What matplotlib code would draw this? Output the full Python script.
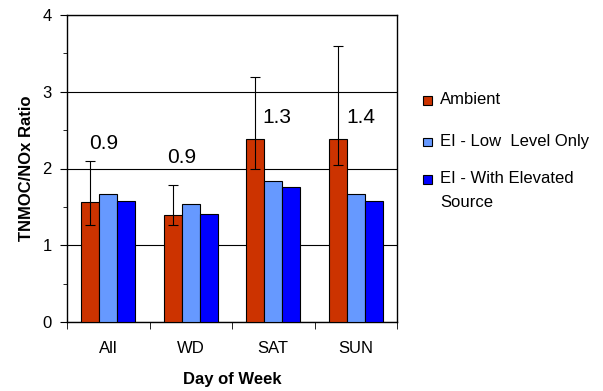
import numpy as np
import matplotlib.pyplot as plt
from matplotlib.patches import Rectangle
from matplotlib.ticker import MultipleLocator

plt.rcParams['font.family'] = ['Liberation Sans', 'DejaVu Sans']

# data
days = ['All', 'WD', 'SAT', 'SUN']
ambient = [1.57, 1.40, 2.38, 2.38]
low_level = [1.67, 1.54, 1.84, 1.67]
elevated = [1.58, 1.41, 1.76, 1.58]
err_low = [1.26, 1.26, 2.00, 2.04]
err_high = [2.10, 1.78, 3.19, 3.60]
ratio_labels = ['0.9', '0.9', '1.3', '1.4']
label_x = [-0.06, -0.11, 0.04, 0.06]
label_y = [2.32, 2.14, 2.66, 2.66]

series_names = ['Ambient', 'EI - Low  Level Only', 'EI - With Elevated\nSource']
colors = ['#CC3300', '#6699FF', '#0000FF']

x = np.arange(len(days))
w = 0.217

W, H = 603, 391
fig = plt.figure(figsize=(W / 100, H / 100), dpi=100)
ax = fig.add_axes([67 / W, 1 - 322 / H, 330 / W, 307 / H])

for k, vals in enumerate([ambient, low_level, elevated]):
    ax.bar(x + (k - 1) * w, vals, w, color=colors[k], edgecolor='black',
           linewidth=0.8, zorder=3)

amb = np.array(ambient)
yerr = [amb - np.array(err_low), np.array(err_high) - amb]
ax.errorbar(x - w, amb, yerr=yerr, fmt='none', ecolor='black', elinewidth=0.8,
            capsize=3.5, capthick=0.8, zorder=4)

for i in range(len(days)):
    ax.text(x[i] + label_x[i], label_y[i], ratio_labels[i], fontsize=15,
            ha='center', va='center', zorder=5)

ax.set_xlim(-0.5, 3.5)
ax.set_ylim(0, 4)
ax.yaxis.set_major_locator(MultipleLocator(1))
ax.yaxis.set_minor_locator(MultipleLocator(0.5))
ax.grid(axis='y', which='major', color='black', linewidth=0.8, zorder=0)
ax.set_xticks(x)
ax.set_xticklabels(days, fontsize=12)
ax.set_xticks(np.arange(-0.5, 4, 1), minor=True)
ax.tick_params(axis='x', which='major', length=0, pad=14)
ax.tick_params(axis='x', which='minor', length=5, direction='out')
ax.tick_params(axis='y', which='major', length=5, labelsize=12, pad=6)
ax.tick_params(axis='y', which='minor', length=3)
for s in ax.spines.values():
    s.set_linewidth(1)

ax.set_xlabel('Day of Week', fontsize=12, fontweight='bold', labelpad=11)
ax.set_ylabel('TNMOC/NOx Ratio', fontsize=12, fontweight='bold', labelpad=6)

# legend, drawn by hand so the marker sits on the first text line
leg_y = [100, 142, 179]
for k in range(3):
    fig.add_artist(Rectangle(((423) / W, 1 - (leg_y[k] + 4.5) / H), 9 / W, 9 / H,
                             transform=fig.transFigure, facecolor=colors[k],
                             edgecolor='black', linewidth=0.8))
    fig.text(440 / W, 1 - (leg_y[k] - 8) / H, series_names[k], fontsize=12,
             ha='left', va='top', linespacing=1.75)

fig.savefig('out.png', dpi=100)
